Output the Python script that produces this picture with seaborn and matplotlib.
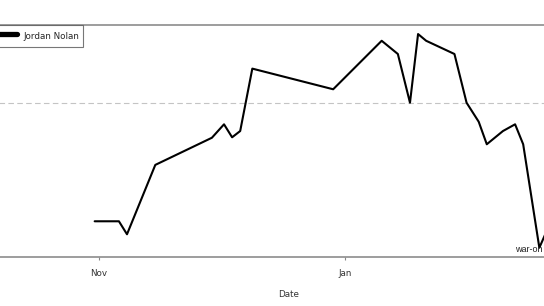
import matplotlib
matplotlib.use("Agg")
import matplotlib.pyplot as plt
import matplotlib.dates as mdates
import seaborn as sns
import pandas as pd

# ---- data ----
dates = ["2023-10-31", "2023-11-06", "2023-11-08", "2023-11-15", "2023-11-29",
         "2023-12-02", "2023-12-04", "2023-12-06", "2023-12-09", "2023-12-29",
         "2024-01-10", "2024-01-14", "2024-01-17", "2024-01-19", "2024-01-21",
         "2024-01-28", "2024-01-31", "2024-02-03", "2024-02-05", "2024-02-09",
         "2024-02-12", "2024-02-14", "2024-02-18", "2024-02-21"]
values = [15.4, 15.4, 9.8, 39.7, 51.4,
          57.2, 51.6, 54.3, 81.2, 72.3,
          93.2, 87.5, 66.5, 96.1, 93.2,
          87.5, 66.5, 58.3, 48.6, 54.3,
          57.2, 48.6, 4.0, 15.9]
series_name = "Jordan Nolan"
reference_level = 66.5
note_text = "war-on"
note_date = "2024-02-18"
note_value = 4.0
x_label = "Date"

df = pd.DataFrame({"Date": pd.to_datetime(dates), "value": values})

sns.set_style("white")
plt.rcParams["font.family"] = ["DejaVu Sans"]

fig = plt.figure(figsize=(5.44, 3.06), dpi=100)
ax = fig.add_axes([-0.06, 0.1601, 1.18, 0.7582])

sns.lineplot(data=df, x="Date", y="value", color="black", linewidth=1.5,
             label=series_name, ax=ax)

ax.axhline(reference_level, color="#c4c4c4", linestyle=(0, (5, 3)), linewidth=0.8, zorder=0)

# x range so that Nov 1 and Jan 1 fall where they do in the reference
nov1 = mdates.date2num(pd.Timestamp("2023-11-01"))
ax.set_xlim(nov1 - 32.49, nov1 + 126.3)
ax.set_ylim(0, 100)

ax.xaxis.set_major_locator(mdates.MonthLocator(bymonth=[11, 1]))
ax.xaxis.set_major_formatter(mdates.DateFormatter("%b"))
ax.tick_params(axis="x", bottom=True, length=2.5, width=0.8, color="#888888",
               labelsize=6.3, labelcolor="#333333", pad=5.8)
ax.set_yticks([])
ax.set_ylabel("")
ax.set_xlabel(x_label, fontsize=6.3, color="#333333", labelpad=9)

for side in ["left", "right"]:
    ax.spines[side].set_visible(False)
for side in ["top", "bottom"]:
    ax.spines[side].set_color("#8c8c8c")
    ax.spines[side].set_linewidth(1.2)

ax.annotate(note_text, xy=(mdates.date2num(pd.Timestamp(note_date)), note_value),
            xytext=(2, -3), textcoords="offset points", ha="right", va="baseline",
            fontsize=6.5, family=["Liberation Sans", "DejaVu Sans"], color="#222222")

leg = ax.legend(loc="upper left", bbox_to_anchor=(-4.7 / 544, 0.9183),
                bbox_transform=fig.transFigure, borderaxespad=0,
                fancybox=False, frameon=True, fontsize=6.3,
                handlelength=2.0, handleheight=2.1, handletextpad=0.75,
                borderpad=0.45)
leg.get_frame().set_edgecolor("#555555")
leg.get_frame().set_linewidth(0.8)
for ln in leg.get_lines():
    ln.set_linewidth(3.8)
    ln.set_solid_capstyle("round")

fig.savefig("out.png", dpi=100)
